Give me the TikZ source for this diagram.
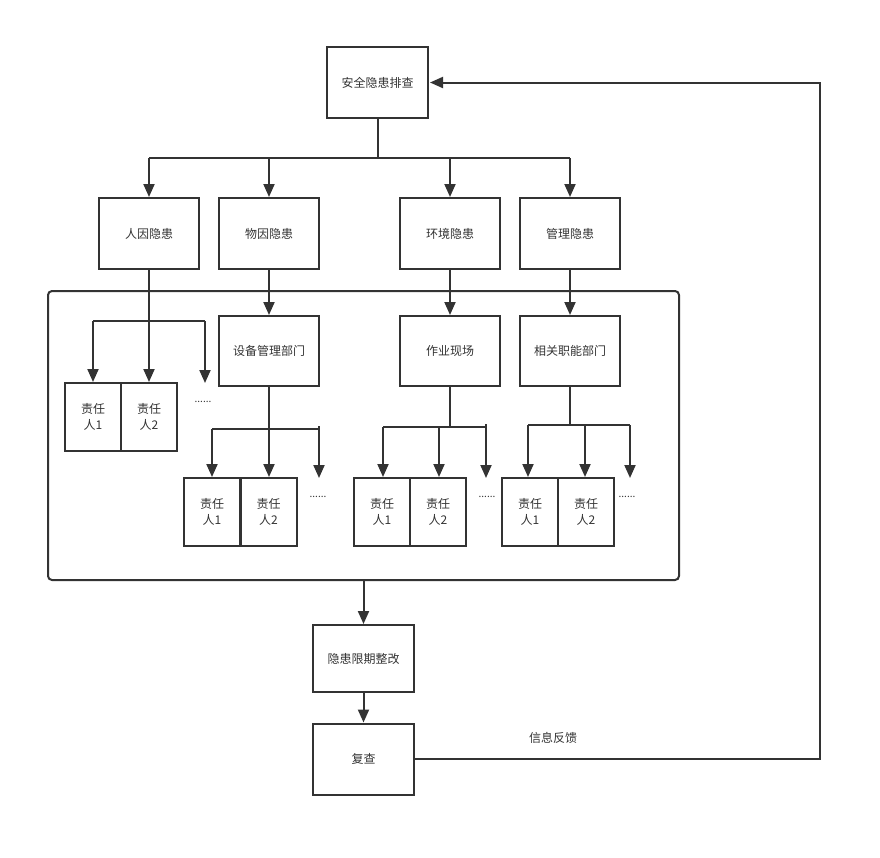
\documentclass[tikz,border=0pt]{standalone}
\usepackage{fontspec}
\setmainfont{Noto Sans CJK SC}
\usetikzlibrary{arrows.meta}
\definecolor{lc}{HTML}{333333}
\tikzset{
  box/.style={draw=lc, line width=2pt, inner sep=0pt, text=lc, align=center,
    font=\fontsize{12}{16}\selectfont},
  bigbox/.style={box, minimum width=101pt, minimum height=71pt},
  pbox/.style={box, minimum width=56pt, minimum height=68pt},
  ln/.style={draw=lc, line width=2pt},
  arr/.style={ln, -{Triangle[length=13pt,width=11pt]}},
  dots/.style={text=lc, inner sep=0pt, font=\fontsize{10}{10}\selectfont},
  lbl/.style={text=lc, inner sep=0pt, font=\fontsize{12}{14}\selectfont}
}
\begin{document}
\begin{tikzpicture}[x=1pt,y=-1pt]
\useasboundingbox (0,0) rectangle (880,857);
% group frame
\node[draw=lc, line width=2pt, rounded corners=4pt, minimum width=631pt, minimum height=289pt, inner sep=0pt] (grp) at (363.5,435.5) {};
% main boxes
\node[bigbox] (top) at (377.5,82.5) {安全隐患排查};
\node[bigbox, minimum width=100pt] (r1) at (149,233.5) {人因隐患};
\node[bigbox, minimum width=100pt] (r2) at (269,233.5) {物因隐患};
\node[bigbox, minimum width=100pt] (r3) at (450,233.5) {环境隐患};
\node[bigbox, minimum width=100pt] (r4) at (570,233.5) {管理隐患};
\node[bigbox, minimum width=100pt, minimum height=70pt] (d1) at (269,351) {设备管理部门};
\node[bigbox, minimum width=100pt, minimum height=70pt] (d2) at (450,351) {作业现场};
\node[bigbox, minimum width=100pt, minimum height=70pt] (d3) at (570,351) {相关职能部门};
\node[bigbox, minimum height=67pt] (rz) at (363.5,658.5) {隐患限期整改};
\node[bigbox, minimum height=71pt] (fc) at (363.5,759) {复查};
% person boxes
\node[pbox] (a1) at (93,417) {责任\\人1};
\node[pbox] (a2) at (149,417) {责任\\人2};
\node[pbox] (b1) at (212,512) {责任\\人1};
\node[pbox] (b2) at (268.5,512) {责任\\人2};
\node[pbox] (c1) at (382,512) {责任\\人1};
\node[pbox] (c2) at (438,512) {责任\\人2};
\node[pbox] (e1) at (530,512) {责任\\人1};
\node[pbox] (e2) at (586,512) {责任\\人2};
% dots
\node[dots] (ad) at (203,402) {......};
\node[dots] (bd) at (318,497) {......};
\node[dots] (cd) at (487,497) {......};
\node[dots] (ed) at (627,497) {......};
% free arrow ends
\coordinate (a3) at (205,383);
\coordinate (b3) at (319,478);
\coordinate (c3) at (486,478);
\coordinate (e3) at (630,478);
% branch levels
\coordinate (h0) at (0,158);
\coordinate (ha) at (0,321);
\coordinate (hb) at (0,429);
\coordinate (hc) at (0,427);
\coordinate (he) at (0,425);
% top branch
\draw[ln] (top.south) -- (top.south |- h0);
\draw[ln] (r1.north |- h0) -- (r4.north |- h0);
\foreach \n in {r1,r2,r3,r4}{\draw[arr] (\n.north |- h0) -- (\n.north);}
% second level
\draw[arr] (r2.south) -- (d1.north);
\draw[arr] (r3.south) -- (d2.north);
\draw[arr] (r4.south) -- (d3.north);
% group A
\draw[ln] (r1.south) -- (r1.south |- ha);
\draw[ln] (a1.north |- ha) -- (a3 |- ha);
\draw[arr] (a1.north |- ha) -- (a1.north);
\draw[arr] (a2.north |- ha) -- (a2.north);
\draw[arr] (a3 |- ha) -- (a3);
% group B
\draw[ln] (d1.south) -- (d1.south |- hb);
\draw[ln] (b1.north |- hb) -- (b3 |- hb);
\draw[arr] (b1.north |- hb) -- (b1.north);
\draw[arr] (d1.south |- hb) -- (d1.south |- b2.north);
\draw[arr] ([yshift=3pt]b3 |- hb) -- (b3);
% group C
\draw[ln] (d2.south) -- (d2.south |- hc);
\draw[ln] ([xshift=1pt]c1.north |- hc) -- (c3 |- hc);
\draw[arr] ([xshift=1pt]c1.north |- hc) -- ([xshift=1pt]c1.north);
\draw[arr] ([xshift=1pt]c2.north |- hc) -- ([xshift=1pt]c2.north);
\draw[arr] ([yshift=3pt]c3 |- hc) -- (c3);
% group D
\draw[ln] (d3.south) -- (d3.south |- he);
\draw[ln] ([xshift=-2pt]e1.north |- he) -- (e3 |- he);
\draw[arr] ([xshift=-2pt]e1.north |- he) -- ([xshift=-2pt]e1.north);
\draw[arr] ([xshift=-1pt]e2.north |- he) -- ([xshift=-1pt]e2.north);
\draw[arr] (e3 |- he) -- (e3);
% bottom flow
\draw[arr] (grp.south -| rz.north) -- (rz.north);
\draw[arr] (rz.south) -- (fc.north);
\coordinate (rt) at (820,0);
\draw[arr] (fc.east) -- (fc.east -| rt) -- (rt |- top.east) -- ([xshift=1pt]top.east);
\node[lbl] (fbk) at (553,738) {信息反馈};
\end{tikzpicture}
\end{document}
